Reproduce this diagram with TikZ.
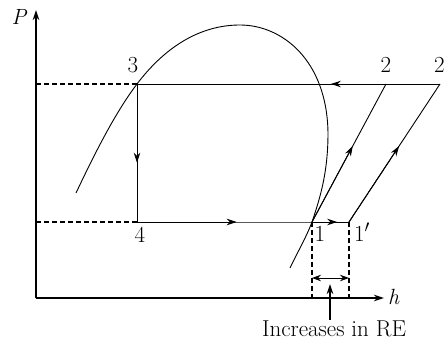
\documentclass[tikz,border=0pt]{standalone}
\usetikzlibrary{arrows.meta,calc}
\begin{document}
\begin{tikzpicture}[x=1pt,y=1pt,
  thin line/.style={line width=0.9pt},
  axis line/.style={line width=1.5pt},
  dash line/.style={line width=1.1pt,dash pattern=on 5pt off 3pt},
  tip/.style={-{Stealth[length=10pt,width=6.5pt]}},
  lbl/.style={font=\fontsize{23}{25}\selectfont,inner sep=0pt,anchor=base}]
\useasboundingbox (0,0) rectangle (445,343);
% points
\coordinate (O) at (36,45);
\coordinate (ytop) at (36,333);
\coordinate (xend) at (384,45);
\coordinate (n3) at (137,259);
\coordinate (n4) at (137,121);
\coordinate (n1) at (312,121);
\coordinate (n1p) at (349,121);
\coordinate (n2) at (386,259);
\coordinate (n2p) at (440,259);
\coordinate (a3) at (36,259);
\coordinate (a4) at (36,121);
\coordinate (b1) at (312,45);
\coordinate (b1p) at (349,45);
\coordinate (d1) at (312,65);
\coordinate (d1p) at (349,65);
\coordinate (ua) at (330,23);
\coordinate (ub) at (330,59);
% axes
\draw[axis line,tip] (O) -- (ytop);
\draw[axis line,tip] (O) -- (xend);
\node[lbl,font=\fontsize{22}{24}\selectfont\itshape] (P) at (19,318) {P};
\node[lbl,font=\fontsize{22}{24}\selectfont\itshape,anchor=base west] (h) at (388,38) {h};
% dashed
\draw[dash line] (a3) -- (n3);
\draw[dash line] (a4) -- (n4);
\draw[dash line] (n1) -- (b1);
\draw[dash line] (n1p) -- (b1p);
% dome curve
\draw[thin line] (76,150) .. controls (95,190) and (115,230) .. (n3)
  .. controls (165,296) and (200,318) .. (240,318)
  .. controls (282,318) and (327,283) .. (328,210)
  .. controls (328,170) and (320,145) .. (n1)
  .. controls (306,105) and (297,90) .. (290,75);
% cycle lines
\draw[thin line] (n2p) -- (n3) -- (n4) -- (n1) -- (n1p);
\draw[thin line] (n1) -- (n2);
\draw[thin line] (n1p) -- (n2p);
% mid arrows
\draw[thin line,tip] (n3) -- ($(n3)!0.57!(n4)$);
\draw[thin line,tip] (n4) -- ($(n4)!0.57!(n1)$);
\draw[thin line,tip] (n1) -- ($(n1)!0.68!(n1p)$);
\draw[thin line,tip] (n1) -- ($(n1)!0.55!(n2)$);
\draw[thin line,tip] (n1p) -- ($(n1p)!0.55!(n2p)$);
\draw[thin line,tip] (n2p) -- ($(n2p)!0.36!(n3)$);
% RE arrows
\draw[thin line,{Stealth[length=9pt,width=6.5pt]}-{Stealth[length=9pt,width=6.5pt]}] (d1) -- (d1p);
\draw[line width=1.3pt,tip] (ua) -- (ub);
% labels
\node[lbl] (l3) at (133,270) {3};
\node[lbl] (l4) at (140,100) {4};
\node[lbl] (l1) at (320,101) {1};
\node[lbl] (l1p) at (362,101) {1$'$};
\node[lbl] (l2) at (386,270) {2};
\node[lbl,anchor=base east] (l2p) at (445,270) {2};
\node[lbl,font=\fontsize{23}{25}\selectfont] (re) at (334,6) {Increases in RE};
\end{tikzpicture}
\end{document}
